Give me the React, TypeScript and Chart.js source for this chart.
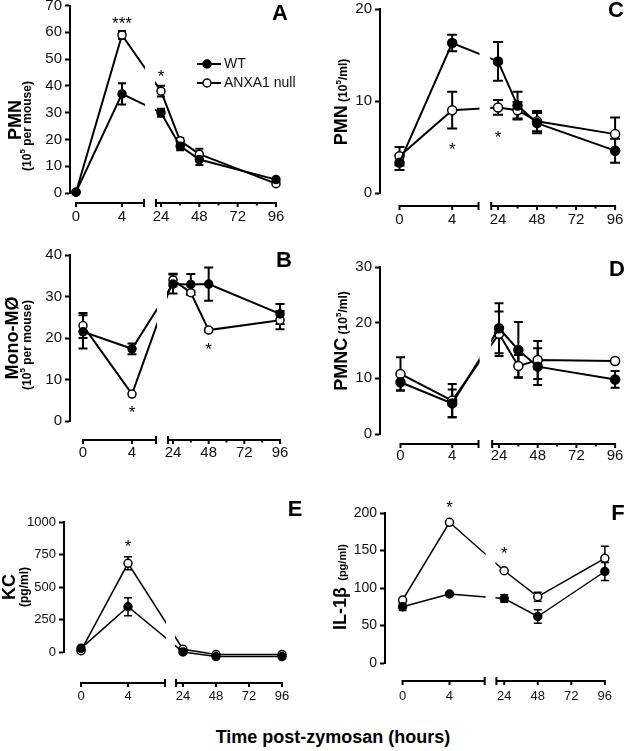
import React, { useEffect, useRef } from 'react';
import { Chart, registerables } from 'chart.js';
Chart.register(...registerables);

const FONT = "'Liberation Sans', Arial, Helvetica, sans-serif";

// Shared axis labels
const xTickHours = [0, 4, 24, 48, 72, 96];
const xTickLabels = ['0', '4', '24', '48', '72', '96'];
const xMinorHours = [36, 60, 84];
const legendLabels = ['WT', 'ANXA1 null'];
const xTitle = 'Time post-zymosan (hours)';

// Panel A - PMN (10^5 per mouse)
const hoursA = [0, 4, 24, 36, 48, 96];
const wtA = [0.3, 37, 30, 17.5, 12.5, 5];
const wtErrA = [0, 4, 1.5, 1.5, 2, 0.5];
const nullA = [0.3, 59, 38, 19.5, 14.5, 3.5];
const nullErrA = [0, 1.5, 2, 1, 2, 0];
const starsA = [{ h: 4, v: 65, t: '***' }, { h: 24, v: 45, t: '*' }];

// Panel B - Mono-MØ (10^5 per mouse)
const hoursB = [0, 4, 24, 36, 48, 96];
const wtB = [21.5, 17.4, 33, 32.9, 33, 25.8];
const wtErrB = [4, 1.3, 2.3, 2.5, 4, 2.4];
const nullB = [23, 6.5, 34, 30.9, 21.9, 24.3];
const nullErrB = [3, 0, 1.5, 0.5, 0.4, 2.2];
const starsB = [{ h: 4, v: 3, t: '*' }, { h: 48, v: 18.3, t: '*' }];

// Panel C - PMN (10^5/ml)
const hoursC = [0, 4, 24, 36, 48, 96];
const wtC = [3.3, 16.3, 14.3, 9.5, 7.6, 4.6];
const wtErrC = [0.8, 0.9, 2.1, 1.5, 1.1, 1.3];
const nullC = [4.0, 9.0, 9.3, 9.0, 7.8, 6.4];
const nullErrC = [1.0, 2.0, 0.8, 0.9, 1.1, 1.8];
const starsC = [{ h: 4, v: 5.2, t: '*' }, { h: 24, v: 6.5, t: '*' }];

// Panel D - PMNC (10^5/ml)
const hoursD = [0, 4, 24, 36, 48, 96];
const wtD = [9.3, 5.5, 19, 15.1, 12.1, 9.8];
const wtErrD = [1.5, 2.5, 4.5, 5, 3.3, 1.5];
const nullD = [10.8, 6.0, 18, 12.2, 13.3, 13.1];
const nullErrD = [3, 3, 4, 2, 3.4, 0];

// Panel E - KC (pg/ml)
const hoursE = [0, 4, 24, 48, 96];
const wtE = [28, 348, 0, -35, -35];
const wtErrE = [0, 70, 0, 0, 0];
const nullE = [10, 682, 21, -20, -20];
const nullErrE = [0, 50, 0, 0, 0];
const starsE = [{ h: 4, v: 840, t: '*' }];

// Panel F - IL-1β (pg/ml)
const hoursF = [0, 4, 24, 48, 96];
const wtF = [75, 92, 86, 62, 122];
const wtErrF = [5, 0, 5, 9, 12];
const nullF = [84, 187.6, 123, 88.4, 139.6];
const nullErrF = [0, 0, 0, 6, 16];
const starsF = [{ h: 4, v: 213, t: '*' }, { h: 24, v: 152, t: '*' }];

const sup5 = (s: number) => ({ t: '5', size: s, sup: true });

const panels: any[] = [
  {
    key: 'A', letter: 'A', lx: 280, ly: 14, box: { l: 0, t: 0, w: 312, h: 232 },
    axisX: 70, yTop: 2, yBot: 193, rightX: 292, xAxisY: 203, labelY: 217,
    px: { p0: 76, p4: 122, pLE: 144, pRS: 156, p24: 161, p96: 276 },
    yMax: 70, yStep: 10, yTickSize: 15, xTickSize: 15,
    hours: hoursA, wt: wtA, wtErr: wtErrA, nul: nullA, nulErr: nullErrA, stars: starsA,
    titles: [
      { parts: [{ t: 'PMN', size: 18 }], bx: 21, cy: 120 },
      { parts: [{ t: '(10', size: 12 }, sup5(8), { t: ' per mouse)', size: 12 }], bx: 31, cy: 126 },
    ],
    minor: true, lineW: 2, radius: 4, errW: 2, cap: 4, legend: { x1: 197, x2: 221, mx: 207, tx: 224, ys: [64, 83] },
  },
  {
    key: 'C', letter: 'C', lx: 616, ly: 11, box: { l: 312, t: 0, w: 313, h: 232 },
    axisX: 380, yTop: 9, yBot: 193, rightX: 625, xAxisY: 206, labelY: 220,
    px: { p0: 400, p4: 454, pLE: 481, pRS: 494, p24: 501, p96: 621 },
    yMax: 20, yStep: 10, yTickSize: 15, xTickSize: 15,
    hours: hoursC, wt: wtC, wtErr: wtErrC, nul: nullC, nulErr: nullErrC, stars: starsC,
    titles: [
      { parts: [{ t: 'PMN', size: 18 }, { t: ' (10', size: 12 }, sup5(8), { t: '/ml)', size: 12 }], bx: 347, cy: 102 },
    ],
    minor: true, lineW: 2, radius: 4.5, errW: 2, cap: 5,
  },
  {
    key: 'B', letter: 'B', lx: 284, ly: 261, box: { l: 0, t: 232, w: 312, h: 238 },
    axisX: 70, yTop: 255, yBot: 421, rightX: 292, xAxisY: 440, labelY: 453,
    px: { p0: 83, p4: 132, pLE: 156, pRS: 168, p24: 173, p96: 280 },
    yMax: 40, yStep: 10, yTickSize: 15, xTickSize: 15,
    hours: hoursB, wt: wtB, wtErr: wtErrB, nul: nullB, nulErr: nullErrB, stars: starsB,
    titles: [
      { parts: [{ t: 'Mono-MØ', size: 18 }], bx: 18, cy: 338 },
      { parts: [{ t: '(10', size: 12 }, sup5(8), { t: ' per mouse)', size: 12 }], bx: 31, cy: 345 },
    ],
    minor: true, lineW: 2, radius: 4, errW: 2, cap: 4.5,
  },
  {
    key: 'D', letter: 'D', lx: 617, ly: 270, box: { l: 312, t: 232, w: 313, h: 238 },
    axisX: 380, yTop: 267, yBot: 434, rightX: 625, xAxisY: 444, labelY: 456,
    px: { p0: 401, p4: 454, pLE: 481, pRS: 495, p24: 502, p96: 621 },
    yMax: 30, yStep: 10, yTickSize: 15, xTickSize: 15,
    hours: hoursD, wt: wtD, wtErr: wtErrD, nul: nullD, nulErr: nullErrD, stars: [],
    titles: [
      { parts: [{ t: 'PMNC', size: 18 }, { t: ' (10', size: 12 }, sup5(8), { t: '/ml)', size: 12 }], bx: 347, cy: 341 },
    ],
    minor: true, lineW: 2, radius: 4.5, errW: 2, cap: 4.5,
  },
  {
    key: 'E', letter: 'E', lx: 295, ly: 510, box: { l: 0, t: 470, w: 312, h: 240 },
    axisX: 64, yTop: 522, yBot: 652, rightX: 292, xAxisY: 683, labelY: 696,
    px: { p0: 81, p4: 128, pLE: 165, pRS: 176, p24: 183, p96: 282 },
    yMax: 1000, yStep: 250, yTickSize: 13, xTickSize: 13,
    hours: hoursE, wt: wtE, wtErr: wtErrE, nul: nullE, nulErr: nullErrE, stars: starsE,
    titles: [
      { parts: [{ t: 'KC', size: 18 }], bx: 15, cy: 587 },
      { parts: [{ t: '(pg/ml)', size: 12 }], bx: 28, cy: 587 },
    ],
    minor: false, lineW: 1.5, radius: 4, errW: 1.5, cap: 4,
  },
  {
    key: 'F', letter: 'F', lx: 618, ly: 514, box: { l: 312, t: 470, w: 313, h: 240 },
    axisX: 385, yTop: 513, yBot: 663, rightX: 625, xAxisY: 681, labelY: 696,
    px: { p0: 403, p4: 451, pLE: 487, pRS: 499, p24: 507, p96: 610 },
    yMax: 200, yStep: 50, yTickSize: 14, xTickSize: 13,
    hours: hoursF, wt: wtF, wtErr: wtErrF, nul: nullF, nulErr: nullErrF, stars: starsF,
    titles: [
      { parts: [{ t: 'IL-1β', size: 18 }, { t: '  (pg/ml)', size: 11 }], bx: 346, cy: 587 },
    ],
    minor: false, lineW: 1.5, radius: 4, errW: 1.5, cap: 4,
  },
];

function makeMap(px: any) {
  return (h: number) =>
    h <= 12 ? px.p0 + (h * (px.p4 - px.p0)) / 4 : px.p24 + ((h - 24) * (px.p96 - px.p24)) / 72;
}

function drawRotated(ctx: CanvasRenderingContext2D, parts: any[], bx: number, cy: number) {
  ctx.save();
  ctx.translate(bx, cy);
  ctx.rotate(-Math.PI / 2);
  ctx.fillStyle = '#000';
  ctx.textBaseline = 'alphabetic';
  ctx.textAlign = 'left';
  let total = 0;
  const widths = parts.map((p) => {
    ctx.font = `bold ${p.size}px ${FONT}`;
    const w = ctx.measureText(p.t).width;
    total += w;
    return w;
  });
  let x = -total / 2;
  parts.forEach((p, i) => {
    ctx.font = `bold ${p.size}px ${FONT}`;
    ctx.fillText(p.t, x, p.sup ? -6 : 0);
    x += widths[i];
  });
  ctx.restore();
}

function decoPlugin(p: any, map: (h: number) => number) {
  return {
    id: 'deco' + p.key,
    beforeDatasetsDraw(chart: any) {
      const ctx = chart.ctx;
      const xs = chart.scales.x;
      const ys = chart.scales.y;
      ctx.save();
      ctx.strokeStyle = '#000';
      ctx.lineWidth = p.errW;
      const series = [[p.wt, p.wtErr], [p.nul, p.nulErr]];
      for (const [vals, errs] of series) {
        p.hours.forEach((h: number, i: number) => {
          const e = errs[i];
          if (!e) return;
          const x = xs.getPixelForValue(map(h));
          const yt = ys.getPixelForValue(vals[i] + e);
          const yb = ys.getPixelForValue(vals[i] - e);
          ctx.beginPath();
          ctx.moveTo(x, yt); ctx.lineTo(x, yb);
          ctx.moveTo(x - p.cap, yt); ctx.lineTo(x + p.cap, yt);
          ctx.moveTo(x - p.cap, yb); ctx.lineTo(x + p.cap, yb);
          ctx.stroke();
        });
      }
      ctx.restore();
      const gl = xs.getPixelForValue(p.px.pLE) + 1;
      const gr = xs.getPixelForValue(p.px.pRS) - 1;
      ctx.save();
      ctx.beginPath();
      ctx.rect(0, 0, gl, chart.height);
      ctx.rect(gr, 0, chart.width - gr, chart.height);
      ctx.clip();
    },
    afterDatasetsDraw(chart: any) {
      const ctx = chart.ctx;
      ctx.restore();
      const xs = chart.scales.x;
      const ys = chart.scales.y;
      const ay = p.xAxisY - p.box.t;
      const X = (h: number) => xs.getPixelForValue(map(h));
      const xLE = xs.getPixelForValue(p.px.pLE);
      const xRS = xs.getPixelForValue(p.px.pRS);
      ctx.save();
      ctx.strokeStyle = '#000';
      ctx.lineWidth = 2;
      ctx.beginPath();
      ctx.moveTo(X(0) - 1, ay); ctx.lineTo(xLE, ay);
      ctx.moveTo(xRS, ay); ctx.lineTo(X(96) + 1, ay);
      ctx.moveTo(xLE, ay - 4); ctx.lineTo(xLE, ay + 4);
      ctx.moveTo(xRS, ay - 4); ctx.lineTo(xRS, ay + 4);
      xTickHours.forEach((h) => { ctx.moveTo(X(h), ay); ctx.lineTo(X(h), ay + 4); });
      if (p.minor) xMinorHours.forEach((h) => { ctx.moveTo(X(h), ay); ctx.lineTo(X(h), ay + 2.5); });
      ctx.stroke();
      ctx.fillStyle = '#111';
      ctx.font = `${p.xTickSize}px ${FONT}`;
      ctx.textAlign = 'center';
      ctx.textBaseline = 'middle';
      xTickHours.forEach((h, i) => ctx.fillText(xTickLabels[i], X(h), p.labelY - p.box.t));

      // significance stars
      ctx.fillStyle = '#000';
      ctx.font = `17px ${FONT}`;
      ctx.textBaseline = 'alphabetic';
      p.stars.forEach((s: any) => {
        ctx.fillText(s.t, X(s.h), ys.getPixelForValue(s.v) + 0.57 * 17);
      });

      // legend
      if (p.legend) {
        const lg = p.legend;
        const fills = ['#000', '#fff'];
        lg.ys.forEach((yy: number, i: number) => {
          const y = yy - p.box.t;
          ctx.strokeStyle = '#000';
          ctx.lineWidth = p.lineW;
          ctx.beginPath();
          ctx.moveTo(lg.x1 - p.box.l, y); ctx.lineTo(lg.x2 - p.box.l, y);
          ctx.stroke();
          ctx.beginPath();
          ctx.arc(lg.mx - p.box.l, y, p.radius, 0, Math.PI * 2);
          ctx.fillStyle = fills[i];
          ctx.fill();
          ctx.lineWidth = 1.5;
          ctx.stroke();
          ctx.fillStyle = '#111';
          ctx.font = `14px ${FONT}`;
          ctx.textAlign = 'left';
          ctx.textBaseline = 'middle';
          ctx.fillText(legendLabels[i], lg.tx - p.box.l, y);
        });
      }

      // panel letter
      ctx.fillStyle = '#000';
      ctx.font = `bold 22px ${FONT}`;
      ctx.textAlign = 'center';
      ctx.textBaseline = 'middle';
      ctx.fillText(p.letter, p.lx - p.box.l, p.ly - p.box.t);
      ctx.restore();

      p.titles.forEach((t: any) => drawRotated(ctx, t.parts, t.bx - p.box.l, t.cy - p.box.t));
    },
  };
}

function Panel({ p }: { p: any }) {
  const ref = useRef<HTMLCanvasElement>(null);
  useEffect(() => {
    const canvas = ref.current!;
    const map = makeMap(p.px);
    const mk = (vals: number[], fill: string, label: string) => ({
      label,
      data: p.hours.map((h: number, i: number) => ({ x: map(h), y: vals[i] })),
      borderColor: '#000',
      backgroundColor: fill,
      pointBackgroundColor: fill,
      pointBorderColor: '#000',
      pointBorderWidth: 1.5,
      pointRadius: p.radius,
      borderWidth: p.lineW,
      clip: false,
      tension: 0,
      showLine: true,
    });
    const chart = new Chart(canvas, {
      type: 'line',
      data: { datasets: [mk(p.wt, '#000', legendLabels[0]), mk(p.nul, '#fff', legendLabels[1])] as any },
      options: {
        animation: false,
        responsive: false,
        devicePixelRatio: 1,
        layout: {
          padding: {
            left: 0,
            top: p.yTop - p.box.t,
            bottom: p.box.t + p.box.h - p.yBot,
            right: p.box.l + p.box.w - p.rightX,
          },
        },
        plugins: { legend: { display: false }, tooltip: { enabled: false } },
        scales: {
          x: { type: 'linear', display: false, min: p.axisX, max: p.rightX },
          y: {
            min: 0,
            max: p.yMax,
            ticks: {
              stepSize: p.yStep,
              font: { family: FONT, size: p.yTickSize },
              color: '#111',
              padding: 3,
              callback: (v: any) => String(v),
            },
            grid: { drawOnChartArea: false, drawTicks: true, tickLength: 5, tickWidth: 2, color: '#000' },
            border: { display: true, width: 2, color: '#000' },
            afterFit: (s: any) => {
              s.width = p.axisX - p.box.l;
              s.paddingTop = 0;
              s.paddingBottom = 0;
            },
          },
        },
      } as any,
      plugins: [decoPlugin(p, map)],
    });
    return () => chart.destroy();
  }, []);
  return (
    <canvas
      ref={ref}
      width={p.box.w}
      height={p.box.h}
      style={{ position: 'absolute', left: p.box.l, top: p.box.t, width: p.box.w, height: p.box.h }}
    />
  );
}

export default function App() {
  return (
    <div style={{ position: 'fixed', left: 0, top: 0, width: 625, height: 751, background: '#fff', overflow: 'hidden' }}>
      {panels.map((p) => (
        <Panel key={p.key} p={p} />
      ))}
      <div
        style={{
          position: 'absolute', left: 133, width: 400, top: 726, textAlign: 'center',
          fontFamily: FONT, fontWeight: 'bold', fontSize: 18, lineHeight: '22px', color: '#000',
        }}
      >
        {xTitle}
      </div>
    </div>
  );
}
